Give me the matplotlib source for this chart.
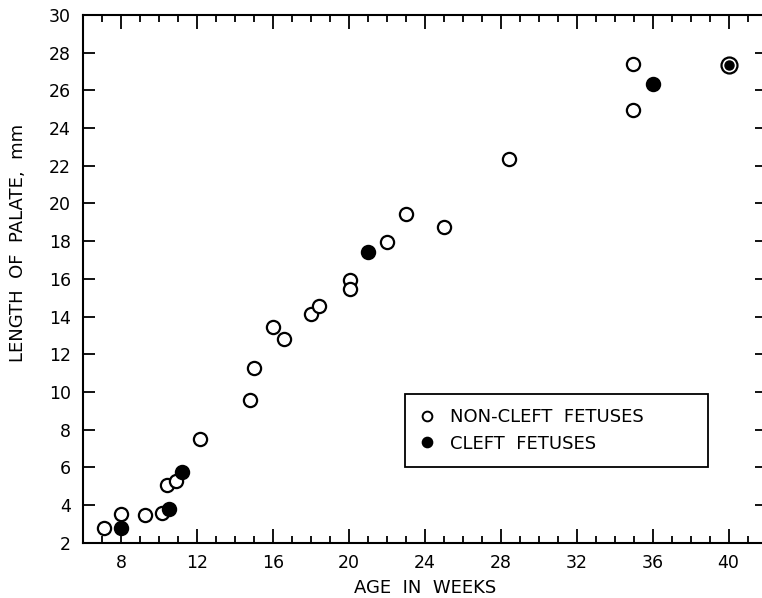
import matplotlib
matplotlib.use("Agg")
import matplotlib.pyplot as plt
from matplotlib.lines import Line2D
from matplotlib.ticker import MultipleLocator

# Data (age in weeks, palate length in mm)
noncleft_age = [7.1, 8.0, 9.25, 10.15, 10.4, 10.9, 12.15, 14.8, 15.0, 16.0, 16.6,
                18.0, 18.4, 20.05, 20.05, 22.0, 23.0, 25.0, 28.45, 34.95, 34.95]
noncleft_len = [2.8, 3.5, 3.45, 3.6, 5.05, 5.25, 7.5, 9.55, 11.25, 13.45, 12.8,
                14.15, 14.55, 15.95, 15.45, 17.95, 19.45, 18.75, 22.35, 27.4, 24.95]
cleft_age = [8.0, 10.5, 11.2, 21.0, 36.0]
cleft_len = [2.8, 3.8, 5.75, 17.45, 26.35]
# point where a cleft and non-cleft fetus coincide
both_age = [40.0]
both_len = [27.35]

x_ticks = [8, 12, 16, 20, 24, 28, 32, 36, 40]
y_ticks = list(range(2, 31, 2))

plt.rcParams['font.family'] = ['DejaVu Sans']

fig = plt.figure(figsize=(7.62, 5.98), dpi=100)
ax = fig.add_axes([0.1093, 0.0925, 0.8967, 0.8824])

ax.plot(noncleft_age, noncleft_len, 'o', ms=9.5, mfc='white', mec='black', mew=1.6, ls='none')
ax.plot(cleft_age, cleft_len, 'o', ms=9.5, mfc='black', mec='black', mew=1.6, ls='none')
ax.plot(both_age, both_len, 'o', ms=11.5, mfc='white', mec='black', mew=1.6, ls='none')
ax.plot(both_age, both_len, 'o', ms=6.5, mfc='black', mec='black', mew=1, ls='none')

ax.set_xlim(6, 42)
ax.set_ylim(2, 30)
ax.set_xticks(x_ticks)
ax.set_yticks(y_ticks)
ax.xaxis.set_minor_locator(MultipleLocator(1))

for s in ax.spines.values():
    s.set_linewidth(1.5)

ax.tick_params(axis='x', which='major', direction='in', length=10, width=1.3,
               top=True, labelsize=12.5, pad=8)
ax.tick_params(axis='x', which='minor', direction='in', length=5, width=1.3, top=True)
ax.tick_params(axis='y', which='major', direction='in', length=8.5, width=1.3,
               right=True, labelsize=12.5, pad=9)

ax.set_xlabel('AGE  IN  WEEKS', fontsize=13, labelpad=5)
ax.set_ylabel('LENGTH  OF  PALATE,  mm', fontsize=13)
ax.yaxis.set_label_coords(-0.083, 0.568)

handles = [
    Line2D([], [], marker='o', ls='none', ms=7, mfc='white', mec='black', mew=1.4),
    Line2D([], [], marker='o', ls='none', ms=7, mfc='black', mec='black', mew=1.4),
]
leg = ax.legend(handles, ['NON-CLEFT  FETUSES', 'CLEFT  FETUSES'],
                loc='upper left', bbox_to_anchor=(0.471, 0.0, 0.444, 0.2818),
                mode='expand', borderaxespad=0, fontsize=13, frameon=True,
                fancybox=False, edgecolor='black', framealpha=1,
                handlelength=0.8, handletextpad=0.9, labelspacing=0.45,
                borderpad=0.8)
leg.get_frame().set_linewidth(1.3)

fig.savefig('out.png', dpi=100)
